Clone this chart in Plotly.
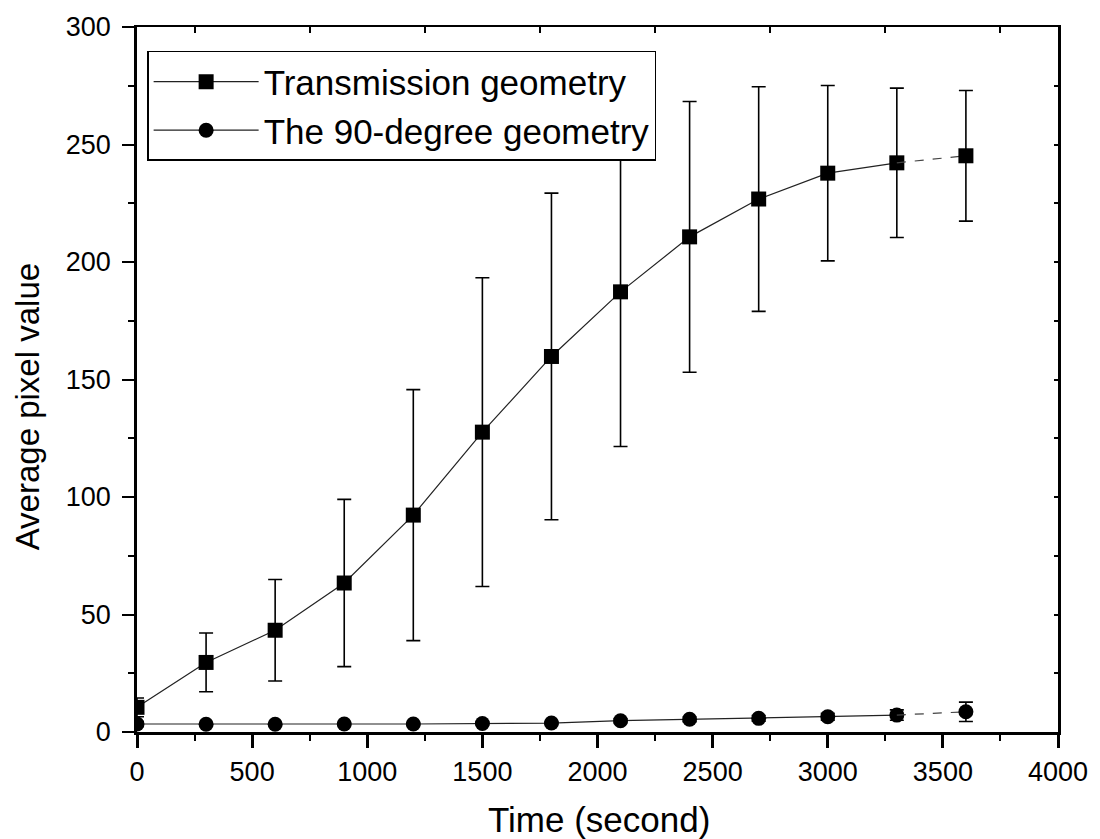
import plotly.graph_objects as go

time_s = [0, 300, 600, 900, 1200, 1500, 1800, 2100, 2400, 2700, 3000, 3300, 3600]
trans = [10.5, 29.6, 43.3, 63.4, 92.3, 127.6, 159.8, 187.3, 210.7, 226.8, 237.8, 242.2, 245.2]
trans_err = [4.0, 12.5, 21.6, 35.6, 53.4, 65.7, 69.5, 65.8, 57.6, 47.8, 37.3, 31.8, 27.8]
ninety = [3.4, 3.3, 3.3, 3.4, 3.4, 3.6, 3.8, 4.8, 5.4, 5.8, 6.5, 7.2, 8.6]
ninety_err = [1.0, 0.5, 0.5, 0.5, 0.5, 0.5, 0.5, 0.8, 1.0, 1.2, 1.5, 2.2, 4.1]

x_ticks = [0, 500, 1000, 1500, 2000, 2500, 3000, 3500, 4000]
top_ticks = [250, 750, 1250, 1750, 2250, 2750, 3250, 3750]
y_ticks = [0, 50, 100, 150, 200, 250, 300]

FONT = "Liberation Sans, Arial, sans-serif"
fig = go.Figure()

def add_series(name, x, y, err, symbol):
    fig.add_trace(go.Scatter(
        x=x[:-1], y=y[:-1], mode="lines+markers", name=name,
        line=dict(color="#222", width=1.2),
        marker=dict(symbol=symbol, size=15, color="black"),
        error_y=dict(type="data", array=err[:-1], color="black", thickness=1.6, width=7),
        showlegend=True,
    ))
    fig.add_trace(go.Scatter(
        x=x[-2:], y=y[-2:], mode="lines",
        line=dict(color="#444", width=1.2, dash="dash"),
        showlegend=False, hoverinfo="skip",
    ))
    fig.add_trace(go.Scatter(
        x=x[-1:], y=y[-1:], mode="markers",
        marker=dict(symbol=symbol, size=15, color="black"),
        error_y=dict(type="data", array=err[-1:], color="black", thickness=1.6, width=7),
        showlegend=False,
    ))

add_series("Transmission geometry", time_s, trans, trans_err, "square")
add_series("The 90-degree geometry", time_s, ninety, ninety_err, "circle")

# dummy trace for mirrored top/right axes
fig.add_trace(go.Scatter(x=[None], y=[None], xaxis="x2", yaxis="y2", showlegend=False, hoverinfo="skip"))

fig.update_layout(
    width=1100, height=839,
    margin=dict(l=137, r=40, t=23, b=107),
    paper_bgcolor="white", plot_bgcolor="white",
    font=dict(family=FONT, color="black"),
    xaxis=dict(
        range=[0, 4000], tickvals=x_ticks, showgrid=False, zeroline=False,
        showline=True, linecolor="black", linewidth=2.5,
        ticks="outside", ticklen=13, tickwidth=2.5, tickcolor="black",
        minor=dict(ticks="outside", ticklen=6, tickwidth=2, dtick=250, tickcolor="black"),
        tickfont=dict(size=27, family=FONT), ticklabelstandoff=1,
    ),
    yaxis=dict(
        range=[0, 300], tickvals=y_ticks, showgrid=False, zeroline=False,
        showline=True, linecolor="black", linewidth=2.5,
        ticks="outside", ticklen=12, tickwidth=2, tickcolor="black",
        minor=dict(ticks="outside", ticklen=6, tickwidth=2, dtick=25, tickcolor="black"),
        tickfont=dict(size=27, family=FONT), ticklabelstandoff=6,
    ),
    xaxis2=dict(
        overlaying="x", side="top", range=[0, 4000], tickvals=top_ticks, showgrid=False, zeroline=False,
        showline=True, linecolor="black", linewidth=2,
        ticks="inside", ticklen=6, tickwidth=2, tickcolor="black", showticklabels=False,
    ),
    yaxis2=dict(
        overlaying="y", side="right", range=[0, 300], dtick=25, showgrid=False, zeroline=False,
        showline=True, linecolor="black", linewidth=2.5,
        ticks="inside", ticklen=4, tickwidth=2, tickcolor="black", showticklabels=False,
    ),
    legend=dict(
        x=0.011, y=0.966, xanchor="left", yanchor="top",
        bgcolor="white", bordercolor="black", borderwidth=1.5,
        font=dict(size=35, family=FONT), tracegroupgap=0, itemwidth=105,
    ),
    annotations=[
        dict(text="Time (second)", xref="paper", yref="paper", x=0.5016, y=-0.124,
             xanchor="center", yanchor="middle", showarrow=False,
             font=dict(size=35, family=FONT)),
        dict(text="Average pixel value", xref="paper", yref="paper", x=-0.118, y=0.461,
             xanchor="center", yanchor="middle", showarrow=False, textangle=-90,
             font=dict(size=33, family=FONT)),
    ],
)

fig.write_html("out.html")
